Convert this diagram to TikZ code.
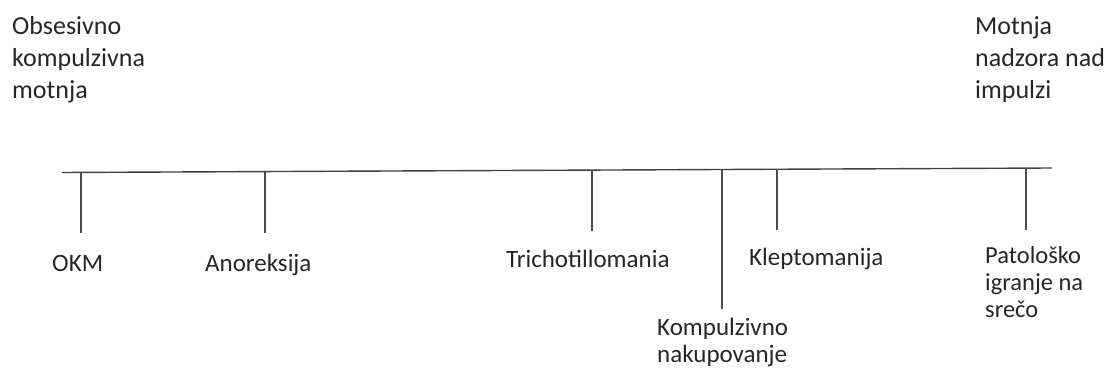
\documentclass[tikz,border=0pt]{standalone}
\usepackage{fontspec}
\setmainfont{Carlito}

\begin{document}
\begin{tikzpicture}[x=1pt,y=-1pt]
            \tikzstyle{pole} = [inner sep=0pt, anchor=base west, align=left, text=black!85, font=\fontsize{26}{32}\selectfont]
            \tikzstyle{label} = [inner sep=0pt, anchor=base west, align=left, text=black!85, font=\fontsize{25}{27.5}\selectfont]
            \tikzstyle{axis} = [line width=1.4pt, draw=black!75]
            \tikzstyle{tick} = [line width=1.2pt, draw=black!70]

            \useasboundingbox (0,0) rectangle (1111,371);

            % the two ends of the spectrum (placed by the baseline of the last line)
            \node (okmpole) [pole] at (12,99) {Obsesivno\\kompulzivna\\motnja};
            \node (impulzpole) [pole] at (975,99) {Motnja\\nadzora nad\\impulzi};

            % the axis
            \coordinate (axisL) at (62,172.5);
            \coordinate (axisR) at (1052,168);
            \draw [axis] (axisL) -- (axisR);

            % disorders along the axis
            \node (okm)    [label] at (52,272)  {OKM};
            \node (anor)   [label] at (205,272) {Anoreksija};
            \node (trich)  [label] at (506,268) {Trichotillomania};
            \node (kompul) [label] at (657,362.5) {Kompulzivno\\nakupovanje};
            \node (klepto) [label] at (749,266) {Kleptomanija};
            \node (patol)  [label, font=\fontsize{24.5}{27}\selectfont] at (985,317) {Patološko\\igranje na\\srečo};

            \coordinate (tOkm)    at (81,172.4);
            \coordinate (tAnor)   at (265,171.6);
            \coordinate (tTrich)  at (592,170.1);
            \coordinate (tKompul) at (722,169.5);
            \coordinate (tKlepto) at (777,169.3);
            \coordinate (tPatol)  at (1026,168.2);

            \draw [tick] (tOkm) -- (81,233);
            \draw [tick] (tAnor) -- (265,233);
            \draw [tick] (tTrich) -- (592,231);
            \draw [tick] (tKompul) -- (722,309);
            \draw [tick] (tKlepto) -- (777,230);
            \draw [tick] (tPatol) -- (1026,230);
        \end{tikzpicture}
\end{document}
